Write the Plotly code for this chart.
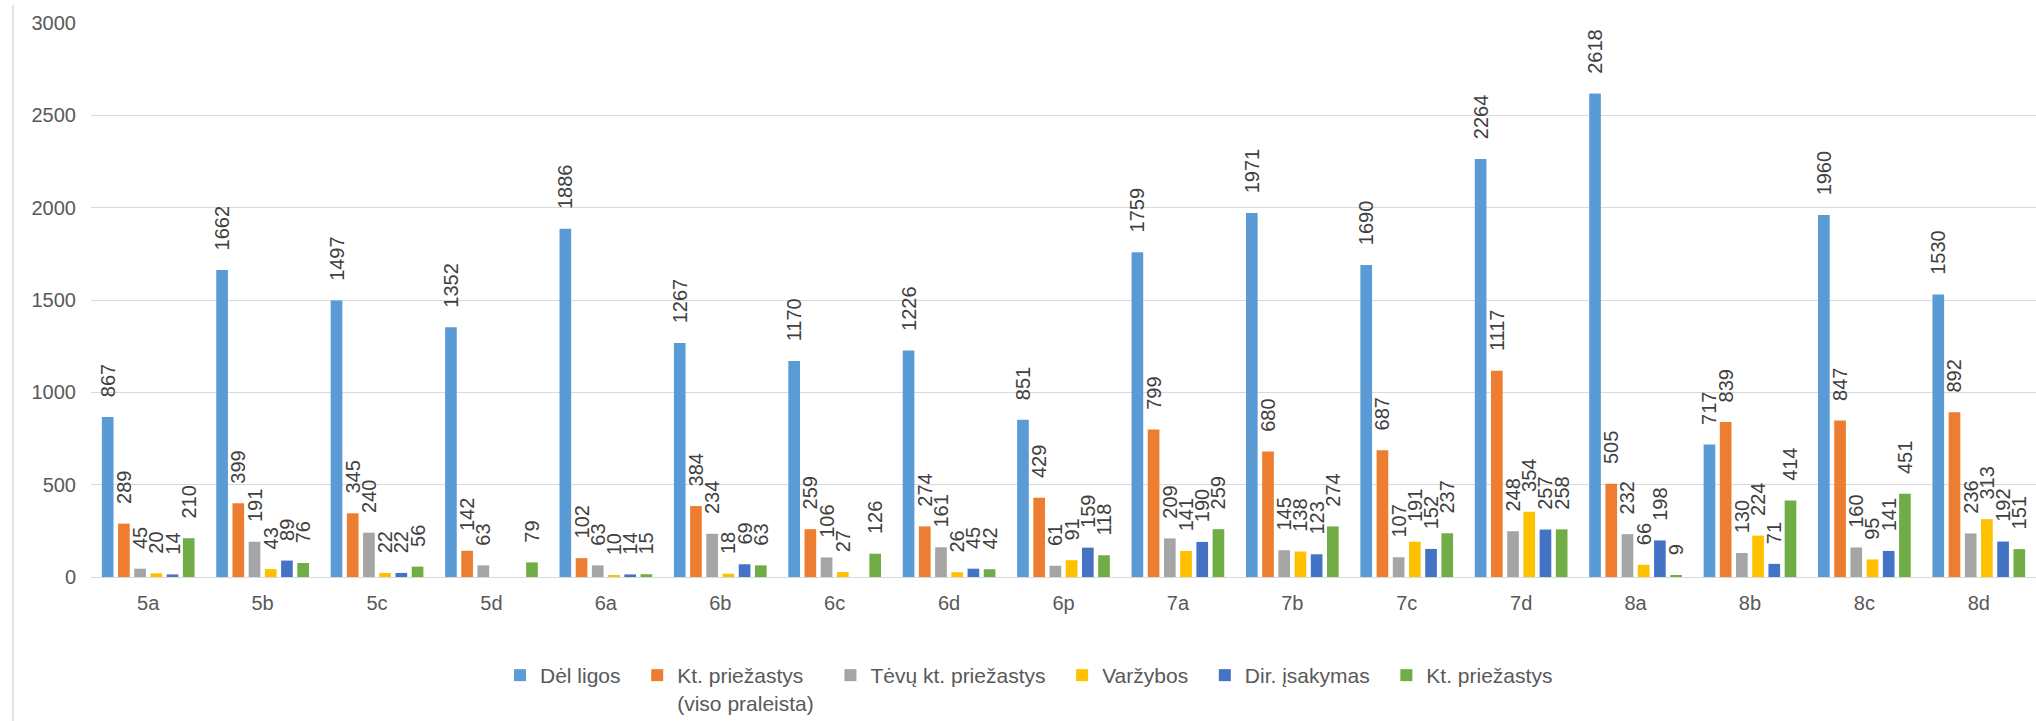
import plotly.graph_objects as go

categories = ["5a", "5b", "5c", "5d", "6a", "6b", "6c", "6d", "6p", "7a",
              "7b", "7c", "7d", "8a", "8b", "8c", "8d"]

del_ligos = [867, 1662, 1497, 1352, 1886, 1267, 1170, 1226, 851, 1759,
             1971, 1690, 2264, 2618, 717, 1960, 1530]
kt_viso = [289, 399, 345, 142, 102, 384, 259, 274, 429, 799,
           680, 687, 1117, 505, 839, 847, 892]
tevu_kt = [45, 191, 240, 63, 63, 234, 106, 161, 61, 209,
           145, 107, 248, 232, 130, 160, 236]
varzybos = [20, 43, 22, None, 10, 18, 27, 26, 91, 141,
            138, 191, 354, 66, 224, 95, 313]
dir_isakymas = [14, 89, 22, None, 14, 69, None, 45, 159, 190,
                123, 152, 257, 198, 71, 141, 192]
kt_priezastys = [210, 76, 56, 79, 15, 63, 126, 42, 118, 259,
                 274, 237, 258, 9, 414, 451, 151]

series_names = ["Dėl ligos", "Kt. priežastys<br>(viso praleista)",
                "Tėvų kt. priežastys", "Varžybos", "Dir. įsakymas",
                "Kt. priežastys"]
series_values = [del_ligos, kt_viso, tevu_kt, varzybos, dir_isakymas,
                 kt_priezastys]
colors = ["#5B9BD5", "#ED7D31", "#A5A5A5", "#FFC000", "#4472C4", "#70AD47"]

FONT = "Liberation Sans, Arial, sans-serif"
W, H = 2036, 721
ML, MR, MT, MB = 91, 0, 23, 144
PAD = "\u00a0\u00a0"

fig = go.Figure()
for name, vals, col in zip(series_names, series_values, colors):
    fig.add_trace(go.Bar(
        x=categories, y=vals, name=name + PAD,
        marker=dict(color=col, line=dict(width=0)),
        texttemplate="\u00a0\u00a0\u00a0%{y}",
        textposition="outside", textangle=-90,
        textfont=dict(family=FONT, size=20, color="#404040"),
        cliponaxis=False, constraintext="none",
    ))

fig.update_layout(
    width=W, height=H,
    margin=dict(l=ML, r=MR, t=MT, b=MB, pad=0),
    paper_bgcolor="white", plot_bgcolor="white",
    barmode="group", bargap=0.15, bargroupgap=0.28,
    font=dict(family=FONT, color="#595959"),
    showlegend=True,
    legend=dict(
        orientation="h", xref="container", x=1035 / W, xanchor="center",
        yref="container", y=1 - 655 / H, yanchor="top",
        font=dict(family=FONT, size=21, color="#595959"),
        valign="top", traceorder="normal",
    ),
    xaxis=dict(
        showgrid=False, showline=True, linecolor="#D9D9D9", linewidth=1,
        ticks="", tickfont=dict(size=20, color="#595959"),
        ticklabelstandoff=8,
    ),
    yaxis=dict(
        range=[0, 3000], dtick=500, showgrid=True, gridcolor="#D9D9D9",
        gridwidth=1, showline=False, zeroline=False, ticks="",
        tickfont=dict(size=20, color="#595959"), ticklabelstandoff=14,
    ),
)

# left border of the chart area
pw = W - ML - MR
ph = H - MT - MB
fig.add_shape(type="line", xref="paper", yref="paper",
              x0=(13 - ML) / pw, x1=(13 - ML) / pw,
              y0=-MB / ph, y1=1 + (MT - 5) / ph,
              line=dict(color="#D9D9D9", width=1.5))

fig.write_html("out.html", config={"displayModeBar": False},
               post_script="document.body.style.margin='0';document.body.style.overflow='hidden';")
